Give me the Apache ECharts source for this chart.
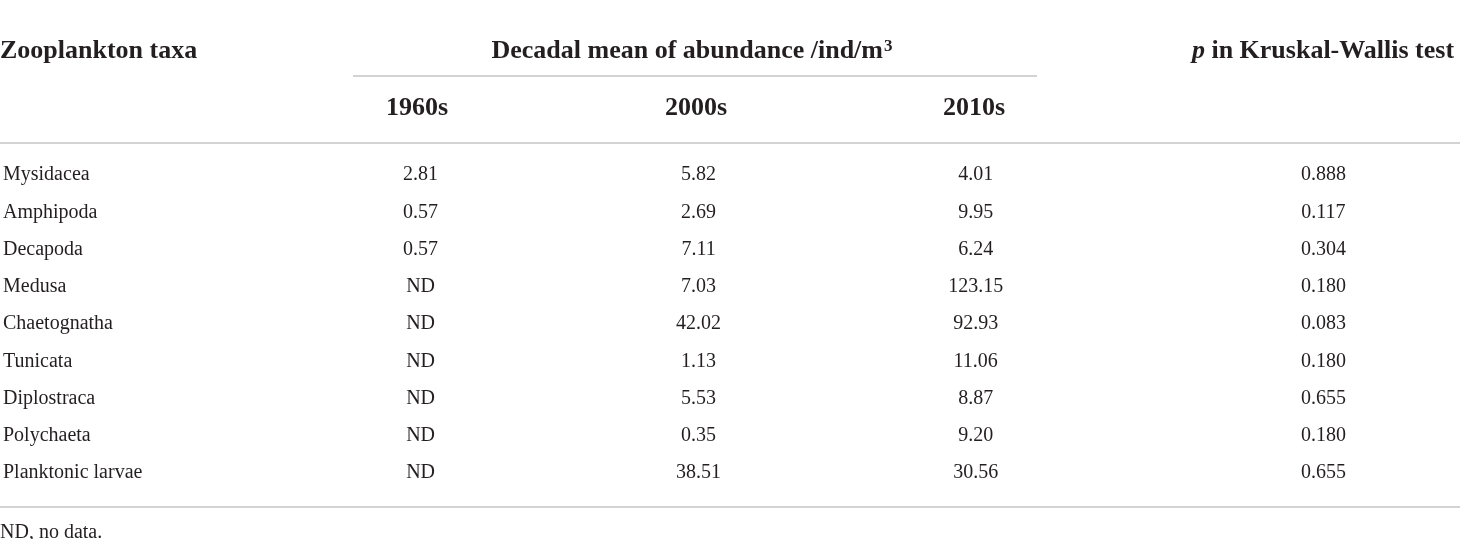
<!DOCTYPE html>
<html>
<head>
<meta charset="utf-8">
<title>Zooplankton taxa</title>
<script src="https://cdn.jsdelivr.net/npm/echarts@6/dist/echarts.min.js"></script>
<style>
  html, body { margin: 0; padding: 0; background: #fff; }
  #chart { width: 1460px; height: 539px; }
</style>
</head>
<body>
<div id="chart"></div>
<script>
// table contents
var taxa = ['Mysidacea', 'Amphipoda', 'Decapoda', 'Medusa', 'Chaetognatha',
  'Tunicata', 'Diplostraca', 'Polychaeta', 'Planktonic larvae'];
var decades = ['1960s', '2000s', '2010s'];
var mean1960s = [2.81, 0.57, 0.57, null, null, null, null, null, null];
var mean2000s = [5.82, 2.69, 7.11, 7.03, 42.02, 1.13, 5.53, 0.35, 38.51];
var mean2010s = [4.01, 9.95, 6.24, 123.15, 92.93, 11.06, 8.87, 9.20, 30.56];
var pValues = [0.888, 0.117, 0.304, 0.180, 0.083, 0.180, 0.655, 0.180, 0.655];
var footnote = 'ND, no data.';

// layout (pixels)
var W = 1460, H = 539;
var colX = [417, 696, 974];   // decade column centres
var pX = 1323;                // p column centre
var headY = 51, subY = 108;
var firstRow = 175, rowStep = 37.25;
var ink = '#231f20', rule = '#c4c4c4';
var serif = '"Liberation Serif", "DejaVu Serif", serif';

var chart = echarts.init(document.getElementById('chart'), null, { renderer: 'canvas' });

var gridTop = firstRow - rowStep / 2;
var gridBottom = H - (gridTop + rowStep * taxa.length);

function column(name, x, values, digits) {
  return {
    name: name,
    type: 'scatter',
    symbolSize: 1,
    itemStyle: { color: 'rgba(0,0,0,0)', opacity: 1 },
    silent: true,
    data: taxa.map(function (t, i) { return [x, i]; }),
    label: {
      show: true,
      position: 'inside',
      color: ink,
      opacity: 1,
      textBorderWidth: 0,
      textBorderColor: 'transparent',
      fontFamily: serif,
      fontSize: 20,
      formatter: function (p) {
        var v = values[p.dataIndex];
        return v == null ? 'ND' : v.toFixed(digits);
      }
    }
  };
}

function headText(text, x, align, rich) {
  return {
    text: text,
    left: x,
    top: headY,
    padding: 0,
    textAlign: align,
    textVerticalAlign: 'middle',
    textStyle: { color: ink, fontFamily: serif, fontSize: 26, fontWeight: 'bold', rich: rich }
  };
}

var titles = [
  headText('Zooplankton taxa', 0, 'left'),
  headText('{t|Decadal mean of abundance /ind/m}{s|3}', 692, 'center', {
    t: { color: ink, fontFamily: serif, fontSize: 26, fontWeight: 'bold' },
    s: { color: ink, fontFamily: serif, fontSize: 17, fontWeight: 'bold', lineHeight: 2, verticalAlign: 'top', padding: [0, 0, 0, 1] }
  }),
  headText('{i|p}{t| in Kruskal-Wallis test}', pX, 'center', {
    i: { color: ink, fontFamily: serif, fontSize: 26, fontWeight: 'bold', fontStyle: 'italic' },
    t: { color: ink, fontFamily: serif, fontSize: 26, fontWeight: 'bold' }
  })
];
decades.forEach(function (d, i) {
  var t = headText(d, colX[i], 'center');
  t.top = subY;
  titles.push(t);
});
titles.push({
  text: footnote,
  left: 0,
  top: 533,
  padding: 0,
  textAlign: 'left',
  textVerticalAlign: 'middle',
  textStyle: { color: ink, fontFamily: serif, fontSize: 20, fontWeight: 'normal' }
});

function ruleLine(x1, x2, y) {
  return {
    type: 'line',
    silent: true,
    shape: { x1: x1, y1: y, x2: x2, y2: y },
    style: { stroke: rule, lineWidth: 1.5 }
  };
}

var option = {
  backgroundColor: '#fff',
  animation: false,
  title: titles,
  grid: { left: 0, right: 0, top: gridTop, bottom: gridBottom, containLabel: false },
  xAxis: { type: 'value', min: 0, max: W, show: false },
  yAxis: {
    type: 'category',
    data: taxa,
    inverse: true,
    offset: 2,
    axisLine: { show: false },
    axisTick: { show: false },
    splitLine: { show: false },
    axisLabel: {
      inside: true,
      margin: 0,
      color: ink,
      fontFamily: serif,
      fontSize: 20
    }
  },
  series: [
    column(decades[0], colX[0], mean1960s, 2),
    column(decades[1], colX[1], mean2000s, 2),
    column(decades[2], colX[2], mean2010s, 2),
    column('p', pX, pValues, 3)
  ],
  graphic: [
    ruleLine(353, 1037, 76),
    ruleLine(0, W, 143),
    ruleLine(0, W, 507)
  ]
};

chart.setOption(option);
</script>
</body>
</html>
